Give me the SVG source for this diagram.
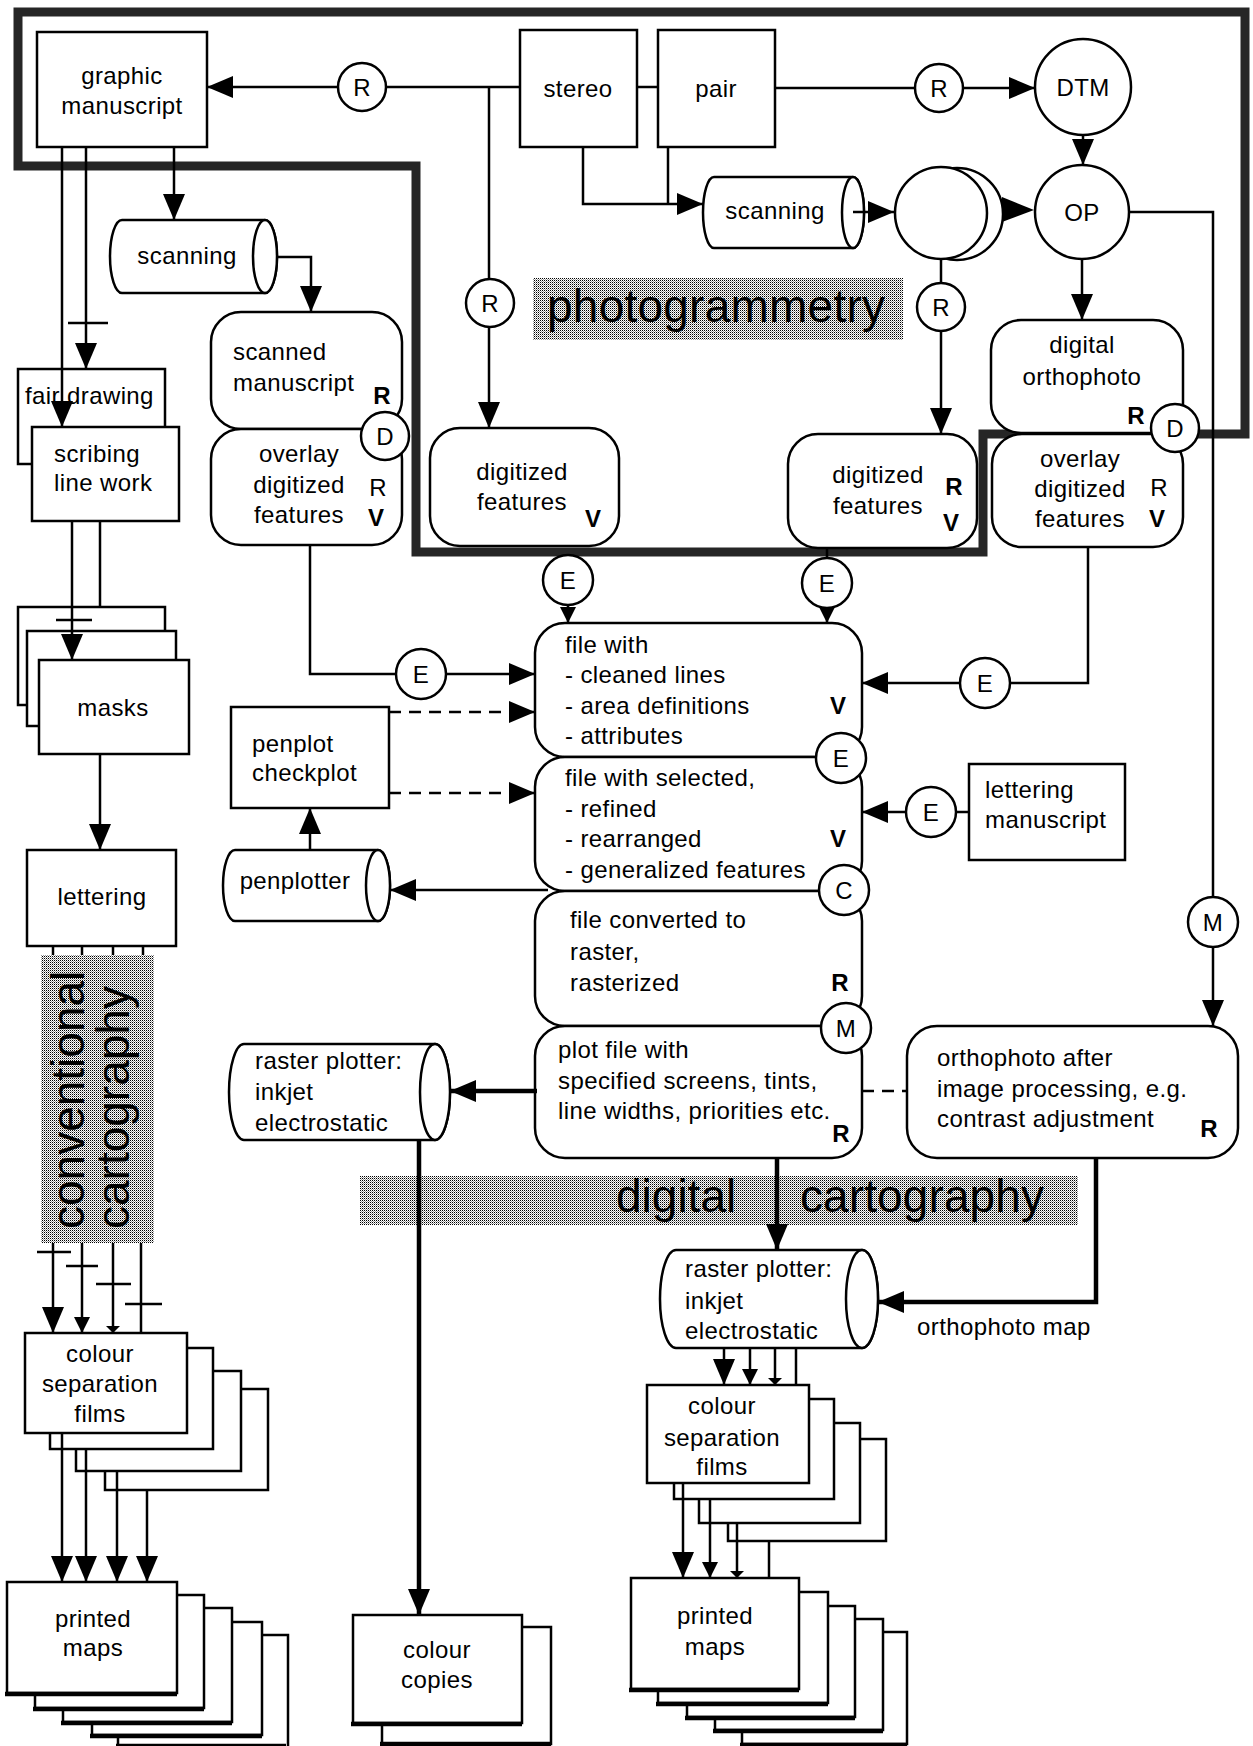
<svg xmlns="http://www.w3.org/2000/svg" width="1253" height="1746" viewBox="0 0 1253 1746">
<defs>
<style>
.n{fill:#fff;stroke:#000;stroke-width:2.5}
.l{fill:none;stroke:#000;stroke-width:2.5}
.k{fill:none;stroke:#000;stroke-width:4.5}
.d{fill:none;stroke:#000;stroke-width:2.5;stroke-dasharray:12 8}
.sh{fill:none;stroke:#000;stroke-width:4.5}
text{font-family:"Liberation Sans",Arial,Helvetica,sans-serif;font-size:24px;letter-spacing:0.4px;fill:#000}
.c{text-anchor:middle}
.b{font-weight:bold;letter-spacing:0}
.big{font-size:46px;letter-spacing:0}
</style>
<pattern id="lt" width="2" height="2" patternUnits="userSpaceOnUse"><rect width="2" height="2" fill="#fff"/><rect width="1" height="1" fill="#000"/><rect x="1" y="1" width="1" height="1" fill="#999"/></pattern>
<marker id="a" markerUnits="userSpaceOnUse" viewBox="0 0 26 22" markerWidth="26" markerHeight="22" refX="26" refY="11" orient="auto"><path d="M0,0 L26,11 L0,22 Z" fill="#000"/></marker>
<marker id="am" markerUnits="userSpaceOnUse" viewBox="0 0 16 16" markerWidth="16" markerHeight="16" refX="16" refY="8" orient="auto"><path d="M0,0 L16,8 L0,16 Z" fill="#000"/></marker>
<marker id="as" markerUnits="userSpaceOnUse" viewBox="0 0 7 14" markerWidth="7" markerHeight="14" refX="7" refY="7" orient="auto"><path d="M0,0 L7,7 L0,14 Z" fill="#000"/></marker>
</defs>
<rect width="1253" height="1746" fill="#fff"/>

<g id="labels">
<rect x="533" y="278" width="370" height="62" fill="url(#lt)"/>
<text class="big" x="547" y="322" textLength="338">photogrammetry</text>
<rect x="360" y="1176" width="718" height="49" fill="url(#lt)"/>
<text class="big" x="616" y="1212">digital</text>
<text class="big" x="800" y="1212" textLength="244">cartography</text>
<rect x="41" y="955" width="113" height="288" fill="url(#lt)"/>
<text class="big" transform="translate(84,1229) rotate(-90)" x="0" y="0">conventional</text>
<text class="big" transform="translate(129,1229) rotate(-90)" x="0" y="0">cartography</text>
</g>

<g id="border">
<path d="M18,12 H1245 V434 H983 V552 H416 V166 H18 Z" fill="none" stroke="#262626" stroke-width="9"/>
</g>

<g id="graphic-manuscript"><rect class="n" x="37" y="32" width="170" height="115"/><text class="c" x="122" y="84">graphic</text><text class="c" x="122" y="114">manuscript</text></g>
<g id="r1"><circle class="n" cx="362" cy="87" r="24"/><text class="c" x="362" y="96">R</text></g>
<g id="stereo"><rect class="n" x="520" y="30" width="117" height="117"/><text class="c" x="578" y="97">stereo</text></g>
<g id="pair"><rect class="n" x="658" y="30" width="117" height="117"/><text class="c" x="716" y="97">pair</text></g>
<g id="r2"><circle class="n" cx="939" cy="88" r="24"/><text class="c" x="939" y="97">R</text></g>
<g id="dtm"><circle class="n" cx="1083" cy="87" r="48"/><text class="c" x="1083" y="96">DTM</text></g>
<g id="op"><circle class="n" cx="1082" cy="212" r="47"/><text class="c" x="1082" y="221">OP</text></g>
<g id="scanning-top"><path class="n" d="M714,177 H853 A11,35.5 0 0 1 853,248 H714 A11,35.5 0 0 1 714,177 Z"/><ellipse class="n" cx="853" cy="212.5" rx="11" ry="35.5"/><text class="c" x="775" y="219">scanning</text></g>
<g id="stereo-model"><circle class="n" cx="957" cy="214" r="46"/><circle class="n" cx="941" cy="213" r="46"/></g>
<g id="r3"><circle class="n" cx="941" cy="307" r="24"/><text class="c" x="941" y="316">R</text></g>
<g id="r4"><circle class="n" cx="490" cy="303" r="24"/><text class="c" x="490" y="312">R</text></g>

<g id="digitized-left"><rect class="n" x="430" y="428" width="189" height="118" rx="30"/><text class="c" x="522" y="480">digitized</text><text class="c" x="522" y="510">features</text><text class="b c" x="593" y="527">V</text></g>
<g id="digitized-right"><rect class="n" x="788" y="434" width="189" height="114" rx="30"/><text class="c" x="878" y="483">digitized</text><text class="c" x="878" y="514">features</text><text class="b c" x="954" y="495">R</text><text class="b c" x="951" y="531">V</text></g>
<g id="digital-orthophoto"><rect class="n" x="991" y="320" width="192" height="113" rx="30"/><text class="c" x="1082" y="353">digital</text><text class="c" x="1082" y="385">orthophoto</text><text class="b c" x="1136" y="424">R</text></g>
<g id="overlay-right"><rect class="n" x="992" y="434" width="191" height="113" rx="30"/><text class="c" x="1080" y="467">overlay</text><text class="c" x="1080" y="497">digitized</text><text class="c" x="1080" y="527">features</text><text class="c" x="1159" y="496" style="letter-spacing:0">R</text><text class="b c" x="1157" y="527">V</text></g>
<g id="d-right"><circle class="n" cx="1175" cy="428" r="24"/><text class="c" x="1175" y="437">D</text></g>

<g id="scanning-left"><path class="n" d="M122,220 H265 A12,36.5 0 0 1 265,293 H122 A12,36.5 0 0 1 122,220 Z"/><ellipse class="n" cx="265" cy="256.5" rx="12" ry="36.5"/><text class="c" x="187" y="264">scanning</text></g>
<g id="scanned-manuscript"><rect class="n" x="211" y="312" width="191" height="117" rx="30"/><text x="233" y="360">scanned</text><text x="233" y="391">manuscript</text><text class="b c" x="382" y="404">R</text></g>
<g id="overlay-left"><rect class="n" x="211" y="429" width="191" height="116" rx="30"/><text class="c" x="299" y="462">overlay</text><text class="c" x="299" y="493">digitized</text><text class="c" x="299" y="523">features</text><text class="c" x="378" y="496" style="letter-spacing:0">R</text><text class="b c" x="376" y="526">V</text></g>
<g id="d-left"><circle class="n" cx="385" cy="436" r="24"/><text class="c" x="385" y="445">D</text></g>

<g id="fair-drawing"><rect class="n" x="18" y="369" width="147" height="95"/><text x="25" y="404">fair drawing</text></g>
<g id="scribing"><rect class="n" x="32" y="427" width="147" height="94"/><text x="54" y="462">scribing</text><text x="54" y="491">line work</text></g>
<g id="masks"><rect class="n" x="18" y="607" width="147" height="98"/><rect class="n" x="27" y="631" width="149" height="95"/><rect class="n" x="39" y="660" width="150" height="94"/><text class="c" x="113" y="716">masks</text></g>
<g id="lettering"><rect class="n" x="27" y="850" width="149" height="96"/><text class="c" x="102" y="905">lettering</text></g>

<g id="penplot-checkplot"><rect class="n" x="231" y="707" width="158" height="101"/><text x="252" y="752">penplot</text><text x="252" y="781">checkplot</text></g>
<g id="penplotter"><path class="n" d="M235,850 H378 A12,35.5 0 0 1 378,921 H235 A12,35.5 0 0 1 235,850 Z"/><ellipse class="n" cx="378" cy="885.5" rx="12" ry="35.5"/><text class="c" x="295" y="889">penplotter</text></g>
<g id="raster-plotter-left"><path class="n" d="M244,1044 H435 A15,48 0 0 1 435,1140 H244 A15,48 0 0 1 244,1044 Z"/><ellipse class="n" cx="435" cy="1092" rx="15" ry="48"/><text x="255" y="1069">raster plotter:</text><text x="255" y="1100">inkjet</text><text x="255" y="1131">electrostatic</text></g>

<g id="file-1"><rect class="n" x="535" y="623" width="327" height="134" rx="30"/><text x="565" y="653">file with</text><text x="565" y="683">- cleaned lines</text><text x="565" y="714">- area definitions</text><text x="565" y="744">- attributes</text><text class="b c" x="838" y="714">V</text></g>
<g id="file-2"><rect class="n" x="535" y="757" width="327" height="134" rx="30"/><text x="565" y="786">file with selected,</text><text x="565" y="817">- refined</text><text x="565" y="847">- rearranged</text><text x="565" y="878">- generalized features</text><text class="b c" x="838" y="847">V</text></g>
<g id="file-3"><rect class="n" x="535" y="891" width="327" height="135" rx="30"/><text x="570" y="928">file converted to</text><text x="570" y="960">raster,</text><text x="570" y="991">rasterized</text><text class="b c" x="840" y="991">R</text></g>
<g id="file-4"><rect class="n" x="535" y="1026" width="327" height="132" rx="30"/><text x="558" y="1058">plot file with</text><text x="558" y="1089">specified screens, tints,</text><text x="558" y="1119">line widths, priorities etc.</text><text class="b c" x="841" y="1142">R</text></g>

<g id="e1"><circle class="n" cx="568" cy="580" r="25"/><text class="c" x="568" y="589">E</text></g>
<g id="e2"><circle class="n" cx="827" cy="583" r="25"/><text class="c" x="827" y="592">E</text></g>
<g id="e3"><circle class="n" cx="421" cy="674" r="25"/><text class="c" x="421" y="683">E</text></g>
<g id="e4"><circle class="n" cx="985" cy="683" r="25"/><text class="c" x="985" y="692">E</text></g>
<g id="e5"><circle class="n" cx="841" cy="758" r="25"/><text class="c" x="841" y="767">E</text></g>
<g id="e6"><circle class="n" cx="931" cy="812" r="25"/><text class="c" x="931" y="821">E</text></g>
<g id="c1"><circle class="n" cx="844" cy="890" r="25"/><text class="c" x="844" y="899">C</text></g>
<g id="m1"><circle class="n" cx="846" cy="1028" r="25"/><text class="c" x="846" y="1037">M</text></g>
<g id="m2"><circle class="n" cx="1213" cy="922" r="25"/><text class="c" x="1213" y="931">M</text></g>

<g id="lettering-manuscript"><rect class="n" x="969" y="764" width="156" height="96"/><text x="985" y="798">lettering</text><text x="985" y="828">manuscript</text></g>
<g id="orthophoto-after"><rect class="n" x="907" y="1026" width="331" height="132" rx="30"/><text x="937" y="1066">orthophoto after</text><text x="937" y="1097">image processing, e.g.</text><text x="937" y="1127">contrast adjustment</text><text class="b c" x="1209" y="1137">R</text></g>
<g id="raster-plotter-right"><path class="n" d="M676,1250 H862 A16,49 0 0 1 862,1348 H676 A16,49 0 0 1 676,1250 Z"/><ellipse class="n" cx="862" cy="1299" rx="16" ry="49"/><text x="685" y="1277">raster plotter:</text><text x="685" y="1309">inkjet</text><text x="685" y="1339">electrostatic</text></g>
<g id="orthophoto-map-label"><text x="917" y="1335">orthophoto map</text></g>

<g id="colour-sep-left">
<rect class="n" x="105" y="1389" width="163" height="101"/><rect class="n" x="76" y="1371" width="165" height="100"/><rect class="n" x="50" y="1348" width="163" height="101"/><rect class="n" x="25" y="1333" width="162" height="100"/>
<text class="c" x="100" y="1362">colour</text><text class="c" x="100" y="1392">separation</text><text class="c" x="100" y="1422">films</text>
</g>
<g id="colour-sep-right">
<rect class="n" x="728" y="1439" width="158" height="102"/><rect class="n" x="699" y="1423" width="161" height="100"/><rect class="n" x="674" y="1399" width="160" height="100"/><rect class="n" x="647" y="1385" width="162" height="98"/>
<text class="c" x="722" y="1414">colour</text><text class="c" x="722" y="1446">separation</text><text class="c" x="722" y="1475">films</text>
</g>
<g id="printed-maps-left">
<rect class="n" x="118" y="1635" width="170" height="113"/><path class="sh" d="M116,1746 H286"/>
<rect class="n" x="92" y="1622" width="170" height="113"/><path class="sh" d="M90,1736 H262"/>
<rect class="n" x="63" y="1608" width="169" height="114"/><path class="sh" d="M61,1723 H232"/>
<rect class="n" x="35" y="1595" width="169" height="113"/><path class="sh" d="M33,1709 H204"/>
<rect class="n" x="7" y="1582" width="170" height="111"/><path class="sh" d="M5,1694 H177"/>
<text class="c" x="93" y="1627">printed</text><text class="c" x="93" y="1656">maps</text>
</g>
<g id="printed-maps-right">
<rect class="n" x="742" y="1632" width="165" height="112"/><path class="sh" d="M740,1745 H907"/>
<rect class="n" x="715" y="1619" width="168" height="111"/><path class="sh" d="M713,1731 H883"/>
<rect class="n" x="687" y="1606" width="168" height="111"/><path class="sh" d="M685,1718 H855"/>
<rect class="n" x="658" y="1592" width="170" height="111"/><path class="sh" d="M656,1704 H828"/>
<rect class="n" x="631" y="1578" width="168" height="111"/><path class="sh" d="M629,1690 H799"/>
<text class="c" x="715" y="1624">printed</text><text class="c" x="715" y="1655">maps</text>
</g>
<g id="colour-copies">
<rect class="n" x="382" y="1627" width="169" height="117"/><path class="sh" d="M380,1744 H551"/>
<rect class="n" x="353" y="1615" width="169" height="108"/><path class="sh" d="M351,1724 H522"/>
<text class="c" x="437" y="1658">colour</text><text class="c" x="437" y="1688">copies</text>
</g>

<g id="connectors">
<path class="l" d="M520,87 H386"/>
<path class="l" d="M338,87 H207" marker-end="url(#a)"/>
<path class="l" d="M489,87 V279"/>
<path class="l" d="M489,327 V428" marker-end="url(#a)"/>
<path class="l" d="M637,87 H658"/>
<path class="l" d="M775,88 H915"/>
<path class="l" d="M963,88 H1035" marker-end="url(#a)"/>
<path class="l" d="M1083,135 V165" marker-end="url(#a)"/>
<path class="l" d="M583,147 V204 H703" marker-end="url(#a)"/>
<path class="l" d="M668,147 V204"/>
<path class="l" d="M853,212 H894" marker-end="url(#a)"/>
<polygon points="1002,197 1034,210 1002,222" fill="#000"/>
<path class="l" d="M941,259 V283"/>
<path class="l" d="M941,331 V434" marker-end="url(#a)"/>
<path class="l" d="M1082,259 V320" marker-end="url(#a)"/>
<path class="l" d="M1129,212 H1213 V897"/>
<path class="l" d="M1213,947 V1026" marker-end="url(#a)"/>
<path class="l" d="M174,147 V220" marker-end="url(#a)"/>
<path class="l" d="M277,257 H311 V312" marker-end="url(#a)"/>
<path class="l" d="M86,147 V369" marker-end="url(#a)"/>
<path class="l" d="M68,323 H108"/>
<path class="l" d="M62,147 V427" marker-end="url(#a)"/>
<path class="l" d="M72,521 V660" marker-end="url(#a)"/>
<path class="l" d="M56,620 H92"/>
<path class="l" d="M100,521 V607"/>
<path class="l" d="M100,754 V850" marker-end="url(#a)"/>
<path class="l" d="M53,946 V955 M82,946 V955 M113,946 V955 M143,946 V955"/>
<path class="l" d="M53,1243 V1333" marker-end="url(#a)"/>
<path class="l" d="M82,1243 V1333" marker-end="url(#am)"/>
<path class="l" d="M113,1243 V1333" marker-end="url(#as)"/>
<path class="l" d="M141,1243 V1333"/>
<path class="l" d="M37,1252 H71 M66,1266 H98 M96,1284 H131 M125,1304 H162"/>
<path class="l" d="M62,1433 V1582" marker-end="url(#a)"/>
<path class="l" d="M86,1449 V1582" marker-end="url(#a)"/>
<path class="l" d="M117,1471 V1582" marker-end="url(#a)"/>
<path class="l" d="M147,1490 V1582" marker-end="url(#a)"/>
<path class="l" d="M310,545 V674 H396"/>
<path class="l" d="M446,674 H535" marker-end="url(#a)"/>
<path class="l" d="M568,605 V623" marker-end="url(#am)"/>
<path class="l" d="M827,548 V558"/>
<path class="l" d="M827,608 V623" marker-end="url(#am)"/>
<path class="l" d="M1088,547 V683 H1010"/>
<path class="l" d="M960,683 H862" marker-end="url(#a)"/>
<path class="l" d="M969,812 H956"/>
<path class="l" d="M906,812 H862" marker-end="url(#a)"/>
<path class="d" d="M389,712 H535" marker-end="url(#a)"/>
<path class="d" d="M389,793 H535" marker-end="url(#a)"/>
<path class="l" d="M548,890 H390" marker-end="url(#a)"/>
<path class="l" d="M310,850 V808" marker-end="url(#a)"/>
<path class="k" d="M537,1091 H450" marker-end="url(#a)"/>
<path class="k" d="M419,1140 V1615" marker-end="url(#a)"/>
<path class="d" d="M862,1091 H907"/>
<path class="k" d="M777,1158 V1250" marker-end="url(#a)"/>
<path class="k" d="M1096,1158 V1302 H878" marker-end="url(#a)"/>
<path class="l" d="M724,1348 V1385" marker-end="url(#a)"/>
<path class="l" d="M750,1348 V1385" marker-end="url(#am)"/>
<path class="l" d="M775,1348 V1385" marker-end="url(#as)"/>
<path class="l" d="M796,1348 V1385"/>
<path class="l" d="M683,1483 V1578" marker-end="url(#a)"/>
<path class="l" d="M710,1499 V1578" marker-end="url(#am)"/>
<path class="l" d="M737,1523 V1578" marker-end="url(#as)"/>
<path class="l" d="M769,1541 V1578"/>
</g>
</svg>
